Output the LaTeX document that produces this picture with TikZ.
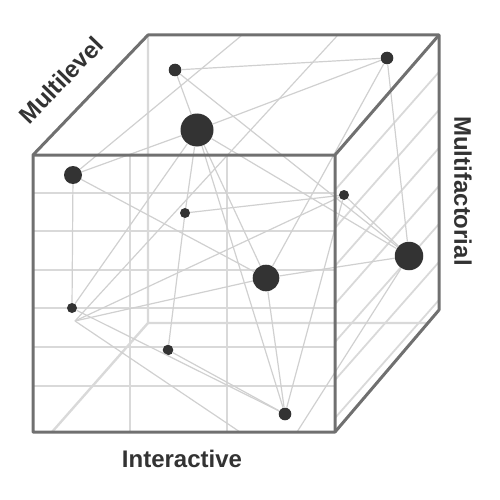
\documentclass[tikz,border=0pt]{standalone}
\usepackage{fontspec}
\setmainfont{Liberation Sans}
\definecolor{rimgray}{HTML}{707070}
\definecolor{gridgray}{HTML}{D9D9D9}
\definecolor{netgray}{HTML}{D0D0D0}
\definecolor{dotgray}{HTML}{333333}
\definecolor{textgray}{HTML}{333333}

\begin{document}
\begin{tikzpicture}[x=1pt,y=-1pt,
  dot/.style={circle,fill=dotgray,inner sep=0pt},
  net/.style={draw=netgray,line width=1.2pt},
  grid/.style={gridgray,line width=2.4pt},
  rim/.style={rimgray,line width=3pt,line join=round},
  lbl/.style={font=\fontsize{24}{28}\selectfont\bfseries,text=textgray}]
\useasboundingbox (0,0) rectangle (500,500);

\draw[grid] (148,35) -- (148,323) -- (428,323) (148,323) -- (52,432);
\foreach \x in {130,227} \draw[grid] (\x,155) -- (\x,432);
\foreach \y in {193,231,270,308,347,386} \draw[grid] (33,\y) -- (335,\y);
\foreach \y in {190,228,266,304,342,380,418} \draw[grid,line width=1.8pt] (335,\y) -- (439,{\y-118});

\node[dot,minimum size=12.6pt] (n1) at (175,70) {};
\node[dot,minimum size=33pt] (n2) at (197,130) {};
\node[dot,minimum size=12.6pt] (n3) at (387,58) {};
\node[dot,minimum size=18pt] (n4) at (73,175) {};
\node[dot,minimum size=10pt] (n5) at (185,213) {};
\node[dot,minimum size=10pt] (n6) at (344,195) {};
\node[dot,minimum size=28.5pt] (n7) at (409,256) {};
\node[dot,minimum size=26.6pt] (n8) at (266,278) {};
\node[dot,minimum size=10pt] (n9) at (72,308) {};
\node[dot,minimum size=10.6pt] (n10) at (168,350) {};
\node[dot,minimum size=12.6pt] (n11) at (285,414) {};
\coordinate (v) at (75,321);
\coordinate (t1) at (241,36);
\coordinate (t2) at (337,36);
\coordinate (b1) at (240,432);
\coordinate (b2) at (297,432);

\path[net]
(n1) edge (n3) edge (n2) edge (n7)
(n2) edge (n3) edge (n4) edge (n7) edge (n5) edge (n8) edge (n11) edge (n9)
(n3) edge (n7) edge (n8)
(n4) edge (n9) edge (n8) edge (t1)
(n5) edge (n6) edge (n10)
(n6) edge (n7) edge (n11) edge (v)
(n7) edge (n8) edge (b2)
(n8) edge (n11) edge (v)
(n9) edge (n11)
(n10) edge (n11)
(v) edge (t2) edge (b1);

\draw[rim] (33,155) -- (148,35) -- (439,35) -- (439,310) -- (335,432) -- (33,432) -- cycle;
\draw[rim] (33,155) -- (335,155) -- (335,432) (335,155) -- (439,35);

\node[lbl,rotate=46] (level) at (61,80) {Multilevel};
\node[lbl,rotate=-90] (factor) at (463,191) {Multifactorial};
\node[lbl] (inter) at (182,459) {Interactive};
\end{tikzpicture}
\end{document}
